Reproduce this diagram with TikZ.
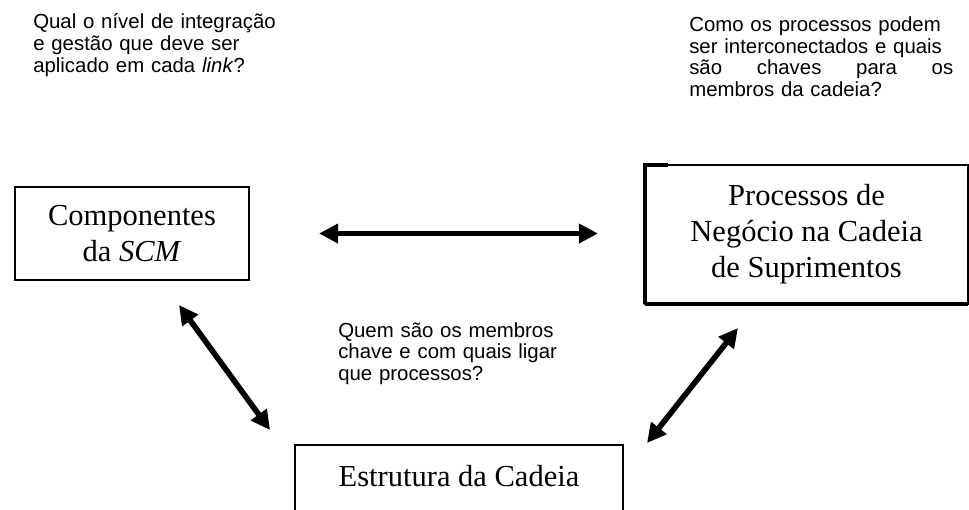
\documentclass[tikz,border=0pt]{standalone}
\usepackage{fontspec}
\setmainfont{Liberation Serif}
\newfontfamily\arialfont{Liberation Sans}
\usepackage{tikz}
\usetikzlibrary{arrows.meta, calc, positioning}

\begin{document}
\begin{tikzpicture}[
        box/.style={draw=black, line width=2pt, inner sep=0pt, outer sep=0pt, align=center, font=\fontsize{21.7}{25.6}\selectfont},
        question/.style={anchor=base west, inner sep=0pt, align=left, text width=#1, font=\arialfont\fontsize{14.5}{15.4}\selectfont},
        link/.style={line width=4pt, {Triangle[length=0.48cm,width=0.47cm]}-{Triangle[length=0.48cm,width=0.47cm]}}
    ]
        \clip (0,0) rectangle (24.225,12.725);

        \node[box, minimum width=5.85cm, minimum height=2.325cm] (comp) at (3.3,6.8875) {Componentes\\da \textit{SCM}};
        \node[box, line width=1pt, minimum width=8.075cm, minimum height=3.475cm] (proc) at (20.1625,6.8625) {Processos de\\Negócio na Cadeia\\de Suprimentos};
        \draw[line width=2.2pt] ([xshift=0.575cm]proc.north west) -- (proc.north west) -- (proc.south west);
        \draw[line width=3.2pt] (proc.south west) -- (proc.south east);
        \node[box, anchor=north, minimum width=8.2cm, text height=0.55cm, text depth=1.5cm, inner ysep=0.475cm] (estr) at (11.475,1.6) {Estrutura da Cadeia};

        \node[question=7cm] (q1) at (0.825,12.0) {Qual o nível de integração\\e gestão que deve ser\\aplicado em cada \textit{link}?};
        \node[question=7.5cm] (q2) at (17.225,11.9375) {Como os processos podem\\ser interconectados e quais\\\makebox[6.6cm]{são\hfill chaves\hfill para\hfill os}\\membros da cadeia?};
        \node[question=7cm] (q3) at (8.45,4.3) {Quem são os membros\\chave e com quais ligar\\que processos?};

        \coordinate (a1) at (4.475,5.1);
        \coordinate (a2) at (6.75,1.975);
        \coordinate (b1) at (18.45,4.525);
        \coordinate (b2) at (16.175,1.65);
        \draw[link, shorten <=1.75cm, shorten >=1.175cm] (comp.east) -- (comp.east -| proc.west);
        \draw[link] (a1) -- (a2);
        \draw[link] (b1) -- (b2);
    \end{tikzpicture}
\end{document}
